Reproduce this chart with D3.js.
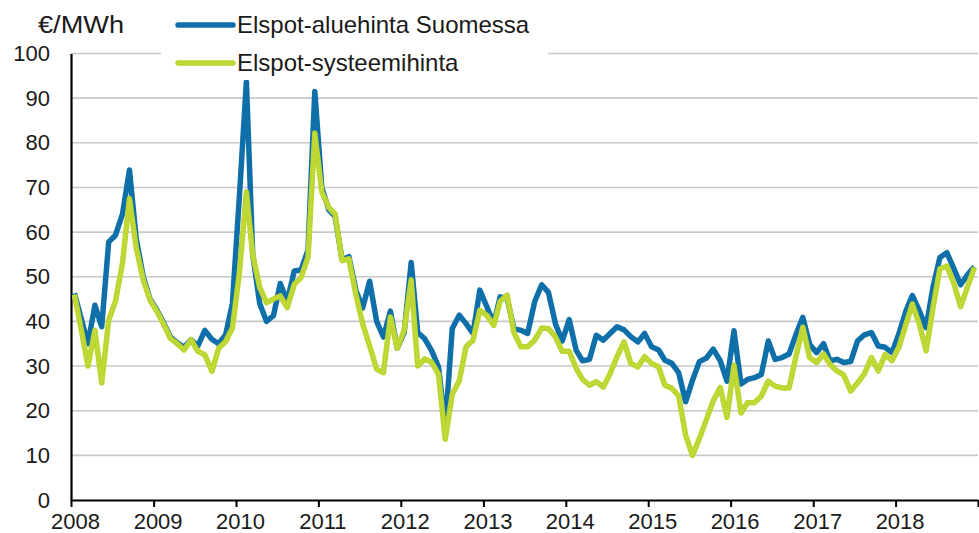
<!DOCTYPE html>
<html>
<head>
<meta charset="utf-8">
<script src="https://cdn.jsdelivr.net/npm/d3@7"></script>
<style>
  html, body { margin: 0; padding: 0; background: #fff; }
  svg { display: block; font-family: 'Liberation Sans', Arial, sans-serif; }
</style>
</head>
<body>
<div id="chart"></div>
<script>
// monthly prices, Jan 2008 .. Dec 2018
const years = [2008, 2009, 2010, 2011, 2012, 2013, 2014, 2015, 2016, 2017, 2018]
const yTicks = [0, 10, 20, 30, 40, 50, 60, 70, 80, 90, 100]
const unitLabel = '€/MWh'
const seriesNames = ['Elspot-aluehinta Suomessa', 'Elspot-systeemihinta']

const finlandPrice = [
  46.3, 40.5, 35, 43.6, 38.8, 57.8, 59.3, 64, 73.9, 58.5, 50, 45,
  42.5, 39.5, 36.5, 35.2, 34.2, 35.9, 34.5, 38, 36, 35, 37, 44,
  68, 93.7, 55, 44, 40, 41.3, 48.5, 44.5, 51.3, 51.5, 56, 91.5,
  70, 65, 63.5, 53.8, 54.5, 47, 43, 49, 40, 36.5, 42.3, 34,
  37.5, 53.2, 37.5, 36.1, 33.5, 29.8, 16.5, 38.4, 41.4, 39.5, 37.3, 47,
  43.3, 39.5, 45.5, 45.2, 38.4, 38, 37.3, 44.4, 48.2, 46.5, 39.5, 35.6,
  40.4, 33.5, 31.2, 31.5, 36.9, 35.8, 37.3, 38.8, 38.1, 36.6, 35.4, 37.3,
  34.3, 33.6, 31.3, 30.6, 28.5, 22, 26.8, 31, 31.8, 33.8, 31.2, 26.6,
  37.9, 26, 27, 27.4, 28.1, 35.6, 31.5, 31.9, 32.7, 37, 40.9, 34.9,
  33, 35, 31.2, 31.5, 30.8, 31, 35.6, 37, 37.5, 34.5, 34.2, 33,
  37.3, 42.4, 45.8, 42.4, 38.6, 47.8, 54.3, 55.4, 51.8, 48.2, 50.5, 52.2
]

const systemPrice = [
  46, 38, 30, 38, 26.2, 40.3, 44.5, 53, 67.5, 56.5, 49.3, 44.8,
  42.2, 39.2, 36.2, 35, 33.6, 35.9, 33.3, 32.5, 28.8, 34, 35.5, 38.5,
  51, 69, 55, 47.6, 44.2, 45, 45.7, 43.1, 48.3, 49.8, 54.4, 82.2,
  69, 65.5, 64, 53.6, 54, 46, 39.5, 34.5, 29.3, 28.5, 41, 34,
  38, 49.3, 30, 31.6, 30.9, 28.2, 13.6, 23.7, 26.7, 34.3, 35.8, 42.5,
  41.4, 39.1, 44.5, 45.9, 37.5, 34.3, 34.3, 35.8, 38.5, 38.4, 36.5, 33.3,
  33.3, 29.5, 27, 25.7, 26.5, 25.3, 28.3, 32.1, 35.4, 30.6, 29.8, 32.1,
  30.6, 29.8, 25.7, 25, 23.3, 14.5, 10, 13.8, 18, 22.2, 25.2, 18.5,
  30.2, 19.5, 21.8, 21.8, 23.3, 26.6, 25.5, 25.1, 25.1, 32, 38.7, 31.9,
  30.8, 32.7, 30.4, 28.9, 28, 24.4, 26.2, 28.3, 31.9, 28.9, 32.6, 31.2,
  34.3, 39.4, 43.9, 39.4, 33.4, 43.2, 51.8, 52.4, 48.5, 43.3, 47.8, 52.1
]

const width = 979
const height = 533
const plot = { left: 71, right: 978, top: 53.5, bottom: 500 }

const blue = '#0f6fa9'
const green = '#bcd52f'

const x = d3.scaleTime()
  .domain([new Date(years[0], 0, 1), new Date(years[years.length - 1] + 1, 0, 1)])
  .range([plot.left, plot.right])
const y = d3.scaleLinear().domain([0, 100]).range([plot.bottom, plot.top])

const monthDate = i => new Date(years[0], i, 16)

const svg = d3.select('#chart').append('svg').attr('width', width).attr('height', height)

// gridlines
svg.append('g')
  .selectAll('line')
  .data(yTicks.filter(d => d > 0))
  .enter()
  .append('line')
  .attr('x1', plot.left)
  .attr('x2', plot.right)
  .attr('y1', d => y(d))
  .attr('y2', d => y(d))
  .attr('stroke', '#c8c8c8')
  .attr('stroke-width', 1.6)

// axes
const yAxis = svg.append('g')
  .attr('transform', `translate(${plot.left},0)`)
  .call(d3.axisLeft(y).tickValues(yTicks).tickSize(0).tickSizeOuter(0).tickPadding(21))
yAxis.select('.domain').attr('stroke', '#000').attr('stroke-width', 2.2)
yAxis.selectAll('text').attr('font-size', 22).attr('fill', '#1a1a1a').attr('font-family', null)

const xAxis = svg.append('g')
  .attr('transform', `translate(0,${plot.bottom})`)
  .call(
    d3.axisBottom(x)
      .tickValues(years.concat(years[years.length - 1] + 1).map(yr => new Date(yr, 0, 1)))
      .tickSize(7)
      .tickSizeOuter(0)
      .tickPadding(6)
      .tickFormat(d => (d.getFullYear() <= years[years.length - 1] ? d.getFullYear() : ''))
  )
xAxis.select('.domain').attr('stroke', '#000').attr('stroke-width', 2.2)
xAxis.selectAll('line').attr('stroke', '#000').attr('stroke-width', 2)
xAxis.selectAll('text').attr('font-size', 22).attr('fill', '#1a1a1a').attr('dx', 4).attr('font-family', null)

// lines
const line = d3.line()
  .x((d, i) => x(monthDate(i)))
  .y(d => y(d))

svg.append('path')
  .datum(finlandPrice)
  .attr('fill', 'none')
  .attr('stroke', blue)
  .attr('stroke-width', 5.5)
  .attr('stroke-linejoin', 'round')
  .attr('d', line)

svg.append('path')
  .datum(systemPrice)
  .attr('fill', 'none')
  .attr('stroke', green)
  .attr('stroke-width', 5.5)
  .attr('stroke-linejoin', 'round')
  .attr('d', line)

svg.append('path')
  .datum(systemPrice)
  .attr('fill', 'none')
  .attr('stroke', '#d3e35e')
  .attr('stroke-width', 1.2)
  .attr('stroke-dasharray', '1 2')
  .attr('d', line)

// unit label
svg.append('text')
  .attr('x', 38)
  .attr('y', 33)
  .attr('font-size', 23)
  .attr('textLength', 86)
  .attr('lengthAdjust', 'spacingAndGlyphs')
  .attr('fill', '#1a1a1a')
  .text(unitLabel)

// legend
const legend = svg.append('g')
legend.append('rect')
  .attr('x', 161)
  .attr('y', 4)
  .attr('width', 387)
  .attr('height', 76)
  .attr('fill', '#fff')

const legendItems = legend.selectAll('g')
  .data(seriesNames)
  .enter()
  .append('g')
  .attr('transform', (_, i) => `translate(178,${25 + i * 38})`)

legendItems.append('line')
  .attr('x1', 0)
  .attr('x2', 55)
  .attr('stroke', (_, i) => (i === 0 ? blue : green))
  .attr('stroke-width', 5.5)
  .attr('stroke-linecap', 'round')

legendItems.filter((_, i) => i === 1)
  .append('line')
  .attr('x1', 1)
  .attr('x2', 54)
  .attr('stroke', '#d3e35e')
  .attr('stroke-width', 1.2)
  .attr('stroke-dasharray', '1 2')

legendItems.append('text')
  .attr('x', 59)
  .attr('y', 8)
  .attr('font-size', 24)
  .attr('fill', '#1a1a1a')
  .text(d => d)
</script>
</body>
</html>
